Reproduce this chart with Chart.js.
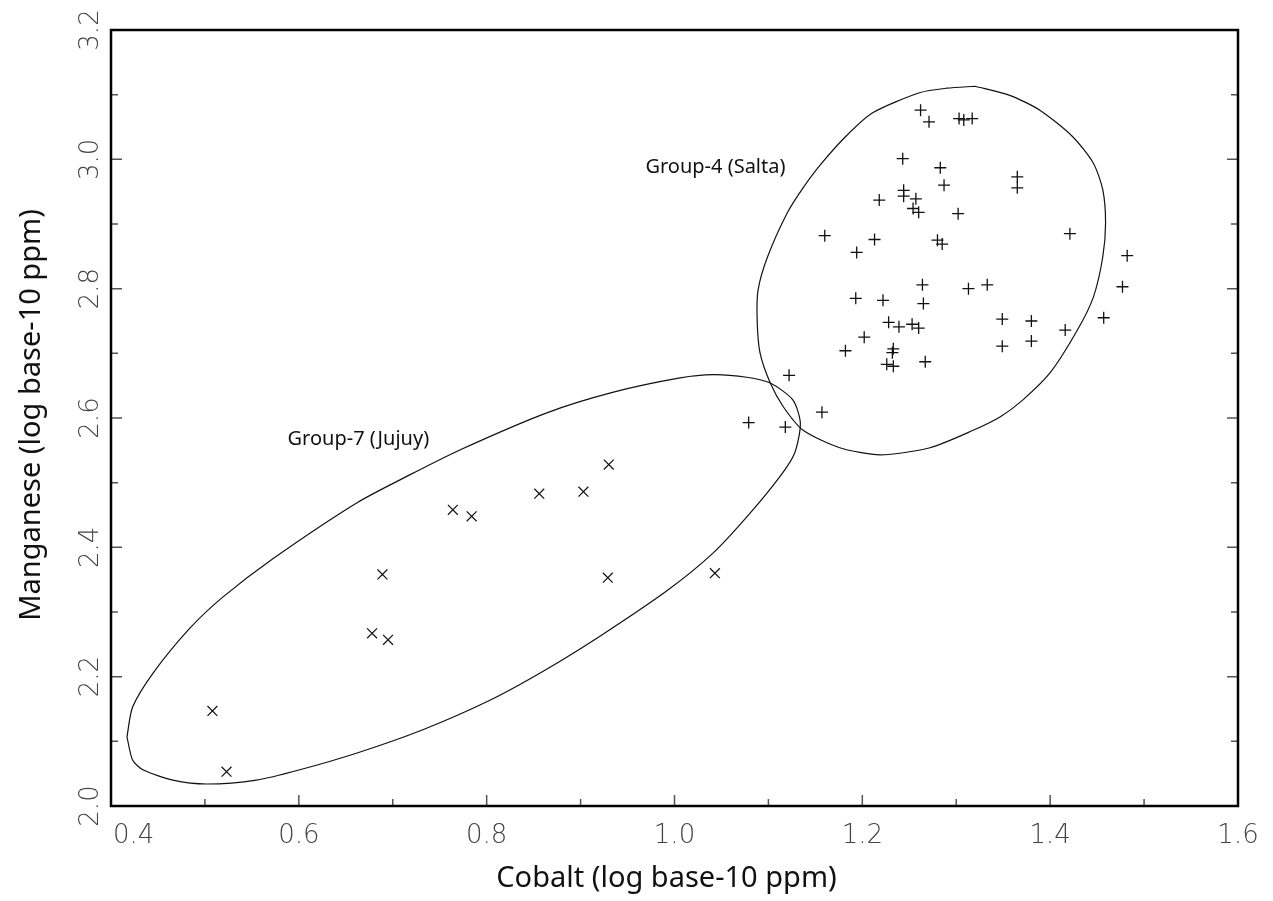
<!DOCTYPE html>
<html lang="en">
<head>
<meta charset="UTF-8">
<title>Cobalt vs Manganese</title>
<script src="https://cdn.jsdelivr.net/npm/chart.js"></script>
<style>
  html, body { margin: 0; padding: 0; background: #fff; }
</style>
</head>
<body>
<canvas id="plot" width="1273" height="901"></canvas>
<script>
// Group-4 (Salta) samples, log base-10 ppm
const saltaCo = [1.122, 1.079, 1.118, 1.262, 1.271, 1.243, 1.283, 1.287, 1.244, 1.244,
                 1.218, 1.257, 1.254, 1.260, 1.160, 1.213, 1.194, 1.280, 1.285, 1.264,
                 1.193, 1.222, 1.265, 1.228, 1.239, 1.253, 1.260, 1.202, 1.182, 1.233,
                 1.232, 1.226, 1.233, 1.267, 1.157, 1.303, 1.308, 1.317, 1.365, 1.365,
                 1.302, 1.421, 1.482, 1.477, 1.313, 1.333, 1.349, 1.380, 1.416, 1.457,
                 1.349, 1.380];
const saltaMn = [2.666, 2.593, 2.586, 3.076, 3.058, 3.001, 2.987, 2.960, 2.952, 2.943,
                 2.937, 2.939, 2.924, 2.918, 2.882, 2.876, 2.856, 2.875, 2.869, 2.806,
                 2.785, 2.782, 2.777, 2.748, 2.741, 2.745, 2.739, 2.725, 2.704, 2.707,
                 2.701, 2.683, 2.680, 2.687, 2.609, 3.063, 3.061, 3.063, 2.973, 2.956,
                 2.916, 2.885, 2.851, 2.803, 2.800, 2.806, 2.753, 2.750, 2.736, 2.755,
                 2.711, 2.719];

// Group-7 (Jujuy) samples
const jujuyCo = [0.508, 0.523, 0.678, 0.695, 0.689, 0.764, 0.784, 0.856, 0.903, 0.930, 0.929, 1.043];
const jujuyMn = [2.147, 2.053, 2.267, 2.257, 2.358, 2.458, 2.448, 2.483, 2.486, 2.528, 2.353, 2.360];

// group ellipse outlines
const saltaEllCo = [1.320, 1.357, 1.389, 1.424, 1.446, 1.456, 1.459, 1.456, 1.446, 1.429,
                    1.400, 1.371, 1.347, 1.318, 1.272, 1.219, 1.176, 1.137, 1.116, 1.102,
                    1.091, 1.088, 1.089, 1.099, 1.120, 1.136, 1.155, 1.182, 1.211, 1.261,
                    1.290, 1.320];
const saltaEllMn = [3.113, 3.099, 3.076, 3.035, 2.994, 2.953, 2.902, 2.849, 2.787, 2.736,
                    2.670, 2.628, 2.602, 2.581, 2.554, 2.543, 2.554, 2.581, 2.617, 2.654,
                    2.701, 2.752, 2.798, 2.849, 2.917, 2.954, 2.991, 3.035, 3.072, 3.103,
                    3.110, 3.113];
const jujuyEllCo = [0.417, 0.423, 0.445, 0.484, 0.519, 0.572, 0.662, 0.718, 0.772, 0.864,
                    0.935, 1.006, 1.041, 1.077, 1.102, 1.126, 1.134, 1.128, 1.112, 1.077,
                    1.041, 0.993, 0.921, 0.862, 0.804, 0.732, 0.662, 0.601, 0.555, 0.502,
                    0.466, 0.434, 0.423, 0.417];
const jujuyEllMn = [2.107, 2.153, 2.206, 2.275, 2.323, 2.382, 2.469, 2.512, 2.551, 2.608,
                    2.640, 2.662, 2.667, 2.663, 2.654, 2.628, 2.592, 2.546, 2.509, 2.447,
                    2.391, 2.334, 2.263, 2.210, 2.164, 2.118, 2.082, 2.056, 2.040, 2.034,
                    2.040, 2.056, 2.071, 2.107];

const groupNames = ['Group-4 (Salta)', 'Group-7 (Jujuy)'];
const groupNameCo = [0.969, 0.588];
const groupNameMn = [2.979, 2.558];

const xTicks = [0.4, 0.6, 0.8, 1.0, 1.2, 1.4, 1.6];
const yTicks = [2.0, 2.2, 2.4, 2.6, 2.8, 3.0, 3.2];
const xMinor = [0.5, 0.7, 0.9, 1.1, 1.3, 1.5];
const yMinor = [2.1, 2.3, 2.5, 2.7, 2.9, 3.1];

const xTitle = 'Cobalt (log base-10 ppm)';
const yTitle = 'Manganese (log base-10 ppm)';

const pts = (xs, ys) => xs.map((x, i) => ({ x: x, y: ys[i] }));

// frame, inward ticks, tick labels, titles and group names
const axesPlugin = {
  id: 'axesPlugin',
  afterDatasetsDraw(chart) {
    const ctx = chart.ctx;
    const xs = chart.scales.x, ys = chart.scales.y;
    const a = chart.chartArea;
    ctx.save();

    // tick marks: bottom, left, right
    ctx.strokeStyle = '#555';
    ctx.lineWidth = 1.5;
    ctx.beginPath();
    const xt = (v, len) => {
      const p = xs.getPixelForValue(v);
      ctx.moveTo(p, a.bottom); ctx.lineTo(p, a.bottom - len);
    };
    const yt = (v, len) => {
      const p = ys.getPixelForValue(v);
      ctx.moveTo(a.left, p); ctx.lineTo(a.left + len, p);
      ctx.moveTo(a.right, p); ctx.lineTo(a.right - len, p);
    };
    xTicks.forEach(v => xt(v, 11));
    xMinor.forEach(v => xt(v, 7));
    yTicks.forEach(v => yt(v, 11));
    yMinor.forEach(v => yt(v, 7));
    ctx.stroke();

    // frame
    ctx.strokeStyle = '#000';
    ctx.lineWidth = 2.5;
    ctx.strokeRect(a.left, a.top, a.right - a.left, a.bottom - a.top);

    // tick labels
    ctx.fillStyle = '#444';
    ctx.font = '200 26px "DejaVu Sans"';
    ctx.textBaseline = 'alphabetic';
    xTicks.forEach((v, i) => {
      const p = xs.getPixelForValue(v);
      if (i === 0) { ctx.textAlign = 'left'; ctx.fillText(v.toFixed(1), p + 2, a.bottom + 37); }
      else { ctx.textAlign = 'center'; ctx.fillText(v.toFixed(1), p, a.bottom + 37); }
    });
    yTicks.forEach(v => {
      const p = ys.getPixelForValue(v);
      ctx.save();
      ctx.translate(a.left - 13, p);
      ctx.rotate(-Math.PI / 2);
      ctx.textAlign = 'center';
      ctx.fillText(v.toFixed(1), 0, 0);
      ctx.restore();
    });

    // axis titles
    ctx.fillStyle = '#111';
    ctx.font = '29px "Noto Sans"';
    ctx.textAlign = 'center';
    ctx.fillText(xTitle, (a.left + a.right) / 2 - 8, a.bottom + 81);
    ctx.save();
    ctx.translate(40, (a.top + a.bottom) / 2 - 3);
    ctx.rotate(-Math.PI / 2);
    ctx.fillText(yTitle, 0, 0);
    ctx.restore();

    // group names
    ctx.font = '20px "Noto Sans"';
    ctx.textAlign = 'left';
    groupNames.forEach((t, i) => {
      ctx.fillText(t, xs.getPixelForValue(groupNameCo[i]), ys.getPixelForValue(groupNameMn[i]));
    });
    ctx.restore();
  }
};

const outline = (label, xs, ys) => ({
  label: label,
  data: pts(xs, ys),
  showLine: true,
  pointRadius: 0,
  borderColor: '#111',
  borderWidth: 1.2,
  tension: 0.25,
  fill: false
});

new Chart(document.getElementById('plot').getContext('2d'), {
  type: 'scatter',
  data: {
    datasets: [
      {
        label: 'Group-4 (Salta)',
        data: pts(saltaCo, saltaMn),
        pointStyle: 'cross',
        pointRadius: 6,
        borderColor: '#111',
        borderWidth: 1.3
      },
      {
        label: 'Group-7 (Jujuy)',
        data: pts(jujuyCo, jujuyMn),
        pointStyle: 'crossRot',
        pointRadius: 7,
        borderColor: '#111',
        borderWidth: 1.2
      },
      outline('Salta ellipse', saltaEllCo, saltaEllMn),
      outline('Jujuy ellipse', jujuyEllCo, jujuyEllMn)
    ]
  },
  options: {
    responsive: false,
    animation: false,
    devicePixelRatio: 1,
    layout: { padding: { left: 111, right: 35, top: 30, bottom: 95 } },
    scales: {
      x: { type: 'linear', min: 0.4, max: 1.6, display: false },
      y: { type: 'linear', min: 2.0, max: 3.2, display: false }
    },
    plugins: {
      legend: { display: false },
      tooltip: { enabled: false }
    }
  },
  plugins: [axesPlugin]
});
</script>
</body>
</html>
